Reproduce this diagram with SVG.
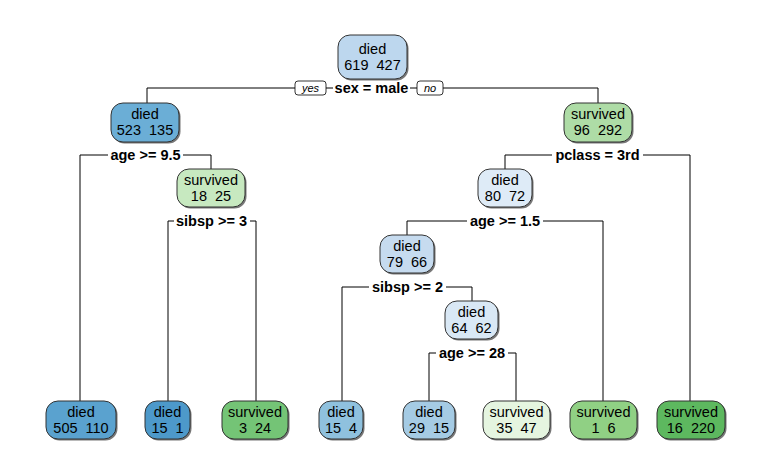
<svg xmlns="http://www.w3.org/2000/svg" width="770" height="475" viewBox="0 0 770 475">
<style>
.bg{fill:#fff}
.edge{fill:none;stroke:#000;stroke-width:1}
.box{stroke:#333;stroke-width:1}
.sh{fill:#777}
.nt{font-family:"Liberation Sans",Arial,sans-serif;font-size:14.5px;fill:#000;text-anchor:middle;white-space:pre}
.lb{font-family:"Liberation Sans",Arial,sans-serif;font-size:14.5px;font-weight:bold;fill:#000;text-anchor:middle;white-space:pre}
.yn{font-family:"Liberation Sans",Arial,sans-serif;font-size:11px;font-style:italic;fill:#000;text-anchor:middle}
.ynb{fill:#fff;stroke:#000;stroke-width:0.8}
.lbg{fill:#fff}
</style>
<rect class="bg" width="770" height="475"/>
<g id="connectors">
<path class="edge" d="M147,103 V88 H598 V103"/>
<path class="edge" d="M80,401 V155 H211 V169"/>
<path class="edge" d="M168,401 V221 H256 V401"/>
<path class="edge" d="M505,169 V155 H690 V401"/>
<path class="edge" d="M407,235 V221 H603 V401"/>
<path class="edge" d="M342,401 V287 H472 V301"/>
<path class="edge" d="M429,401 V353 H516 V401"/>
</g>
<g id="split-labels">
<rect class="lbg" x="333" y="81" width="77" height="15"/>
<text class="lb" x="371.5" y="93">sex = male</text>
<rect class="ynb" x="295" y="81" width="31" height="14" rx="3"/>
<text class="yn" x="310.5" y="92">yes</text>
<rect class="ynb" x="417" y="81" width="26" height="14" rx="3"/>
<text class="yn" x="430" y="92">no</text>
<rect class="lbg" x="108" y="148" width="75" height="15"/>
<text class="lb" x="145.5" y="160">age &gt;= 9.5</text>
<rect class="lbg" x="174" y="214" width="76" height="15"/>
<text class="lb" x="211.5" y="226">sibsp &gt;= 3</text>
<rect class="lbg" x="552" y="148" width="91" height="15"/>
<text class="lb" x="597.5" y="160">pclass = 3rd</text>
<rect class="lbg" x="467" y="214" width="76" height="15"/>
<text class="lb" x="505" y="226">age &gt;= 1.5</text>
<rect class="lbg" x="369" y="280" width="77" height="15"/>
<text class="lb" x="407.5" y="292">sibsp &gt;= 2</text>
<rect class="lbg" x="436" y="346" width="72" height="15"/>
<text class="lb" x="472" y="358">age &gt;= 28</text>
</g>
<g id="n1">
<rect class="sh" x="339.5" y="36.5" width="69" height="44" rx="12"/>
<rect class="box" x="338" y="35" width="69" height="44" fill="#bdd7ee" rx="12"/>
<text class="nt" x="372.5" y="54">died</text>
<text class="nt" x="372.5" y="70">619  427</text>
</g>
<g id="n2">
<rect class="sh" x="112.5" y="104.5" width="68" height="39" rx="12"/>
<rect class="box" x="111" y="103" width="68" height="39" fill="#6baed6" rx="12"/>
<text class="nt" x="145" y="119">died</text>
<text class="nt" x="145" y="135">523  135</text>
</g>
<g id="n3">
<rect class="sh" x="565.5" y="104.5" width="68" height="39" rx="12"/>
<rect class="box" x="564" y="103" width="68" height="39" fill="#aedca6" rx="12"/>
<text class="nt" x="598" y="119">survived</text>
<text class="nt" x="598" y="135">96  292</text>
</g>
<g id="n5">
<rect class="sh" x="178.5" y="170.5" width="68" height="38" rx="12"/>
<rect class="box" x="177" y="169" width="68" height="38" fill="#c7e9c0" rx="12"/>
<text class="nt" x="211" y="185">survived</text>
<text class="nt" x="211" y="201">18  25</text>
</g>
<g id="n6">
<rect class="sh" x="479.5" y="170.5" width="54" height="38" rx="12"/>
<rect class="box" x="478" y="169" width="54" height="38" fill="#deebf7" rx="12"/>
<text class="nt" x="505" y="185">died</text>
<text class="nt" x="505" y="201">80  72</text>
</g>
<g id="n12">
<rect class="sh" x="381.5" y="236.5" width="54" height="38" rx="12"/>
<rect class="box" x="380" y="235" width="54" height="38" fill="#c6dbef" rx="12"/>
<text class="nt" x="407" y="251">died</text>
<text class="nt" x="407" y="267">79  66</text>
</g>
<g id="n25">
<rect class="sh" x="446.5" y="302.5" width="53" height="38" rx="12"/>
<rect class="box" x="445" y="301" width="53" height="38" fill="#d9e8f5" rx="12"/>
<text class="nt" x="471.5" y="317">died</text>
<text class="nt" x="471.5" y="333">64  62</text>
</g>
<g id="leaf4">
<rect class="sh" x="47.5" y="402.5" width="70" height="38" rx="12"/>
<rect class="box" x="46" y="401" width="70" height="38" fill="#5aa2cf" rx="12"/>
<text class="nt" x="81" y="417">died</text>
<text class="nt" x="81" y="433">505  110</text>
</g>
<g id="leaf10">
<rect class="sh" x="146.5" y="402.5" width="45" height="38" rx="12"/>
<rect class="box" x="145" y="401" width="45" height="38" fill="#4d99ca" rx="12"/>
<text class="nt" x="167.5" y="417">died</text>
<text class="nt" x="167.5" y="433">15  1</text>
</g>
<g id="leaf11">
<rect class="sh" x="223.5" y="402.5" width="66" height="38" rx="12"/>
<rect class="box" x="222" y="401" width="66" height="38" fill="#74c476" rx="12"/>
<text class="nt" x="255" y="417">survived</text>
<text class="nt" x="255" y="433">3  24</text>
</g>
<g id="leaf24">
<rect class="sh" x="320.5" y="402.5" width="44" height="38" rx="12"/>
<rect class="box" x="319" y="401" width="44" height="38" fill="#8fc1de" rx="12"/>
<text class="nt" x="341" y="417">died</text>
<text class="nt" x="341" y="433">15  4</text>
</g>
<g id="leaf50">
<rect class="sh" x="404.5" y="402.5" width="52" height="38" rx="12"/>
<rect class="box" x="403" y="401" width="52" height="38" fill="#a5cbe4" rx="12"/>
<text class="nt" x="429" y="417">died</text>
<text class="nt" x="429" y="433">29  15</text>
</g>
<g id="leaf51">
<rect class="sh" x="484.5" y="402.5" width="67" height="38" rx="12"/>
<rect class="box" x="483" y="401" width="67" height="38" fill="#e5f5e0" rx="12"/>
<text class="nt" x="516.5" y="417">survived</text>
<text class="nt" x="516.5" y="433">35  47</text>
</g>
<g id="leaf13">
<rect class="sh" x="571.5" y="402.5" width="67" height="38" rx="12"/>
<rect class="box" x="570" y="401" width="67" height="38" fill="#90d084" rx="12"/>
<text class="nt" x="603.5" y="417">survived</text>
<text class="nt" x="603.5" y="433">1  6</text>
</g>
<g id="leaf7">
<rect class="sh" x="658.5" y="402.5" width="68" height="38" rx="12"/>
<rect class="box" x="657" y="401" width="68" height="38" fill="#5db85f" rx="12"/>
<text class="nt" x="691" y="417">survived</text>
<text class="nt" x="691" y="433">16  220</text>
</g>
</svg>
